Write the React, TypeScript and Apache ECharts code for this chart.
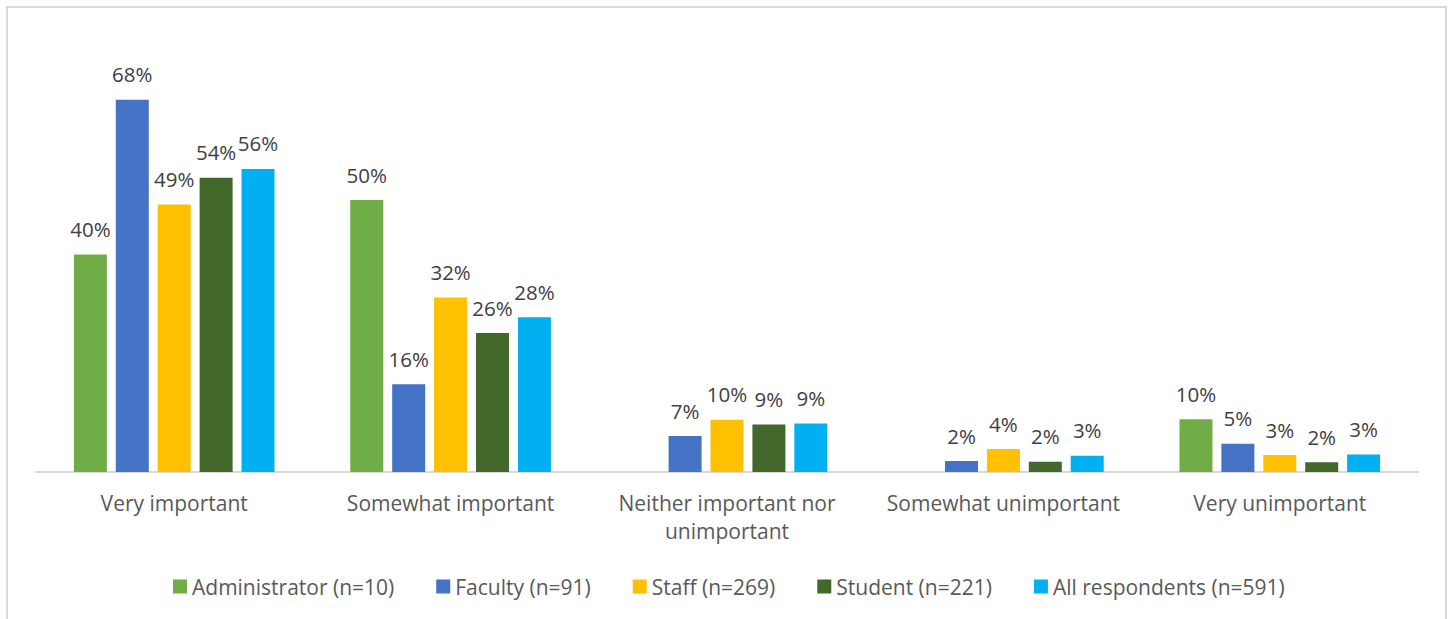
import React, { useEffect, useRef } from "react";
import * as echarts from "echarts";

const categories = [
  "Very important",
  "Somewhat important",
  "Neither important nor\nunimportant",
  "Somewhat unimportant",
  "Very unimportant",
];

const seriesNames = [
  "Administrator (n=10)",
  "Faculty (n=91)",
  "Staff (n=269)",
  "Student (n=221)",
  "All respondents (n=591)",
];

const administrator = [39.9, 49.9, 0, 0, 9.7];
const faculty = [68.3, 16.1, 6.6, 2.0, 5.2];
const staff = [49.1, 32.0, 9.6, 4.2, 3.1];
const student = [54.0, 25.5, 8.7, 1.9, 1.8];
const allRespondents = [55.6, 28.4, 8.9, 3.0, 3.2];

const colors = ["#70AD47", "#4472C4", "#FFC000", "#43682B", "#00B0F0"];
const FONT = "'Open Sans', 'Noto Sans', sans-serif";

export default function App() {
  const ref = useRef<HTMLDivElement>(null);
  useEffect(() => {
    if (!ref.current) return;
    const chart = echarts.init(ref.current, null, { renderer: "svg" });
    const allData = [administrator, faculty, staff, student, allRespondents];
    chart.setOption({
      animation: false,
      backgroundColor: "#ffffff",
      textStyle: { fontFamily: FONT },
      graphic: [
        {
          type: "rect",
          shape: { x: 7, y: 7, width: 1439, height: 640 },
          style: { fill: "none", stroke: "#D9D9D9", lineWidth: 2 },
          silent: true,
          z: -1,
        },
      ],
      grid: { left: 36, right: 32, top: 36, bottom: 147, containLabel: false },
      legend: {
        left: 168,
        top: 571,
        icon: "rect",
        itemWidth: 14,
        itemHeight: 14,
        itemGap: 42,
        textStyle: { fontFamily: FONT, fontSize: 21, color: "#595959" },
        data: seriesNames,
      },
      xAxis: {
        type: "category",
        data: categories,
        axisLine: { lineStyle: { color: "#D9D9D9", width: 2 } },
        axisTick: { show: false },
        axisLabel: {
          fontFamily: FONT,
          fontSize: 21,
          lineHeight: 28,
          color: "#595959",
          margin: 17,
          interval: 0,
        },
      },
      yAxis: {
        type: "value",
        min: 0,
        max: 80,
        show: false,
        splitLine: { show: false },
      },
      series: seriesNames.map((name, i) => ({
        name,
        type: "bar",
        data: allData[i],
        barWidth: 33,
        barGap: "27%",
        itemStyle: { color: colors[i] },
        label: {
          show: true,
          position: "top",
          distance: 15,
          fontFamily: FONT,
          fontSize: 20.5,
          lineHeight: 21,
          color: "#404040",
          formatter: (p: any) => (p.value > 0 ? Math.round(p.value) + "%" : ""),
        },
      })),
    });
    return () => chart.dispose();
  }, []);
  return (
    <div
      ref={ref}
      style={{ position: "fixed", left: 0, top: 0, width: 1450, height: 619 }}
    />
  );
}
